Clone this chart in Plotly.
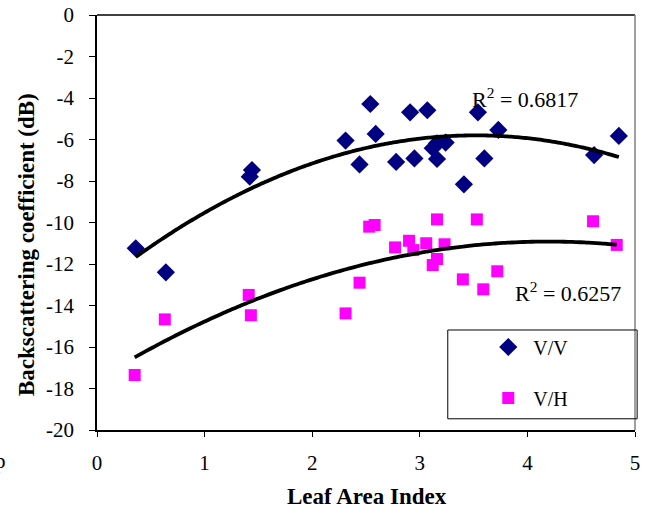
import numpy as np
import plotly.graph_objects as go

# Leaf Area Index and backscatter (dB) for the two polarisations
lai_vv = [0.36, 0.64, 1.42, 1.44, 2.31, 2.44, 2.54, 2.59, 2.78, 2.91, 2.95,
          3.07, 3.12, 3.16, 3.16, 3.24, 3.41, 3.54, 3.60, 3.73, 4.62, 4.85]
sigma_vv = [-11.24, -12.40, -7.79, -7.47, -6.05, -7.20, -4.29, -5.73, -7.08, -4.69, -6.91,
            -4.59, -6.42, -6.18, -6.94, -6.15, -8.16, -4.69, -6.91, -5.54, -6.75, -5.83]

lai_vh = [0.35, 0.63, 1.41, 1.43, 2.31, 2.44, 2.53, 2.58, 2.77, 2.90, 2.94,
          3.06, 3.12, 3.16, 3.16, 3.23, 3.40, 3.53, 3.59, 3.72, 4.61, 4.83]
sigma_vh = [-17.35, -14.67, -13.49, -14.47, -14.38, -12.90, -10.20, -10.12, -11.20, -10.88, -11.33,
            -11.00, -12.05, -9.85, -11.76, -11.05, -12.74, -9.85, -13.22, -12.35, -9.94, -11.08]

r2_labels = ["0.6817", "0.6257"]
y_ticks = list(range(-20, 1, 2))
y_ticktext = [str(v) for v in y_ticks]          # plain hyphen minus
x_ticks = list(range(0, 6))
x_ticktext = [str(v) for v in x_ticks]

SERIF = "Liberation Serif, Times New Roman, Times, serif"


def quad_trend(x, y):
    """Second-order polynomial trend line over the span of x."""
    c = np.polyfit(x, y, 2)
    xs = np.linspace(min(x), max(x), 120)
    return xs, np.polyval(c, xs)


fig = go.Figure()

fig.add_trace(go.Scatter(
    x=lai_vv, y=sigma_vv, mode="markers", name="V/V", legendgroup="vv",
    marker=dict(symbol="diamond", size=14, color="#000080"),
))
fig.add_trace(go.Scatter(
    x=lai_vh, y=sigma_vh, mode="markers", name="V/H", legendgroup="vh",
    marker=dict(symbol="square", size=12, color="#FF00FF"),
))

for lx, ly in ((lai_vv, sigma_vv), (lai_vh, sigma_vh)):
    tx, ty = quad_trend(lx, ly)
    fig.add_trace(go.Scatter(
        x=tx, y=ty, mode="lines", showlegend=False, hoverinfo="skip",
        line=dict(color="black", width=3.8, shape="spline"),
    ))

tick_font = dict(family=SERIF, size=21, color="black", weight="normal")

fig.update_layout(
    template="none",
    width=647, height=516,
    margin=dict(l=97, r=12, t=15, b=86),
    paper_bgcolor="white", plot_bgcolor="white",
    font=dict(family=SERIF, color="black"),
    showlegend=True,
    legend=dict(
        x=0.718, y=0.247, xanchor="left", yanchor="top",
        bgcolor="rgba(0,0,0,0)", borderwidth=0,
        font=dict(family=SERIF, size=20, color="black"),
        tracegroupgap=22, itemwidth=40,
    ),
    xaxis=dict(
        range=[0, 5], tickvals=x_ticks, ticktext=x_ticktext,
        ticks="outside", ticklen=5, tickwidth=1, tickcolor="black",
        showline=True, linecolor="black", linewidth=1.5, automargin=False,
        showgrid=False, zeroline=False, tickfont=tick_font,
        ticklabelstandoff=8,
    ),
    yaxis=dict(
        range=[-20, 0], tickvals=y_ticks, ticktext=y_ticktext,
        ticks="outside", ticklen=6, tickwidth=1, tickcolor="black",
        showline=True, linecolor="black", linewidth=1.5, automargin=False,
        showgrid=False, zeroline=False, tickfont=tick_font,
        ticklabelstandoff=11,
    ),
    # companion axes carrying the inward half of each cross tick
    xaxis2=dict(
        range=[0, 5], tickvals=x_ticks, ticks="inside", ticklen=4, tickwidth=1,
        tickcolor="black", overlaying="x", anchor="y", side="bottom",
        showticklabels=False, showgrid=False, zeroline=False, showline=False,
        automargin=False,
    ),
    yaxis2=dict(
        range=[-20, 0], tickvals=y_ticks, ticks="inside", ticklen=4, tickwidth=1,
        tickcolor="black", overlaying="y", anchor="x", side="left",
        showticklabels=False, showgrid=False, zeroline=False, showline=False,
        automargin=False,
    ),
)

# plot frame: black top edge, grey right edge
fig.add_shape(type="line", xref="paper", yref="paper", x0=0, x1=1, y0=1, y1=1,
              line=dict(color="black", width=1.5))
fig.add_shape(type="line", xref="paper", yref="paper", x0=1, x1=1, y0=0, y1=1,
              line=dict(color="#808080", width=1.5))
# legend frame
fig.add_shape(type="rect", xref="paper", yref="paper",
              x0=0.652, x1=1.004, y0=0.027, y1=0.241,
              line=dict(color="black", width=1), fillcolor="rgba(0,0,0,0)")

ann_font = dict(family=SERIF, size=22, color="black")
fig.add_annotation(x=3.98, y=-4.0, xref="x", yref="y", showarrow=False,
                   xanchor="center", yanchor="middle",
                   text=f"R<sup>2</sup> = {r2_labels[0]}", font=ann_font)
fig.add_annotation(x=4.38, y=-13.35, xref="x", yref="y", showarrow=False,
                   xanchor="center", yanchor="middle",
                   text=f"R<sup>2</sup> = {r2_labels[1]}", font=ann_font)

title_font = dict(family=SERIF, size=23, color="black")
fig.add_annotation(x=0.502, y=-0.161, xref="paper", yref="paper", showarrow=False,
                   xanchor="center", yanchor="middle",
                   text="<b>Leaf Area Index</b>", font=title_font)
fig.add_annotation(x=-0.130, y=0.446, xref="paper", yref="paper", showarrow=False,
                   xanchor="center", yanchor="middle",
                   text="<b>Backscattering coefficient (dB)</b>", textangle=-90,
                   font=title_font)
fig.add_annotation(x=-0.180, y=-0.075, xref="paper", yref="paper", showarrow=False,
                   xanchor="center", yanchor="middle",
                   text="p", font=tick_font)

fig.write_html("out.html")
